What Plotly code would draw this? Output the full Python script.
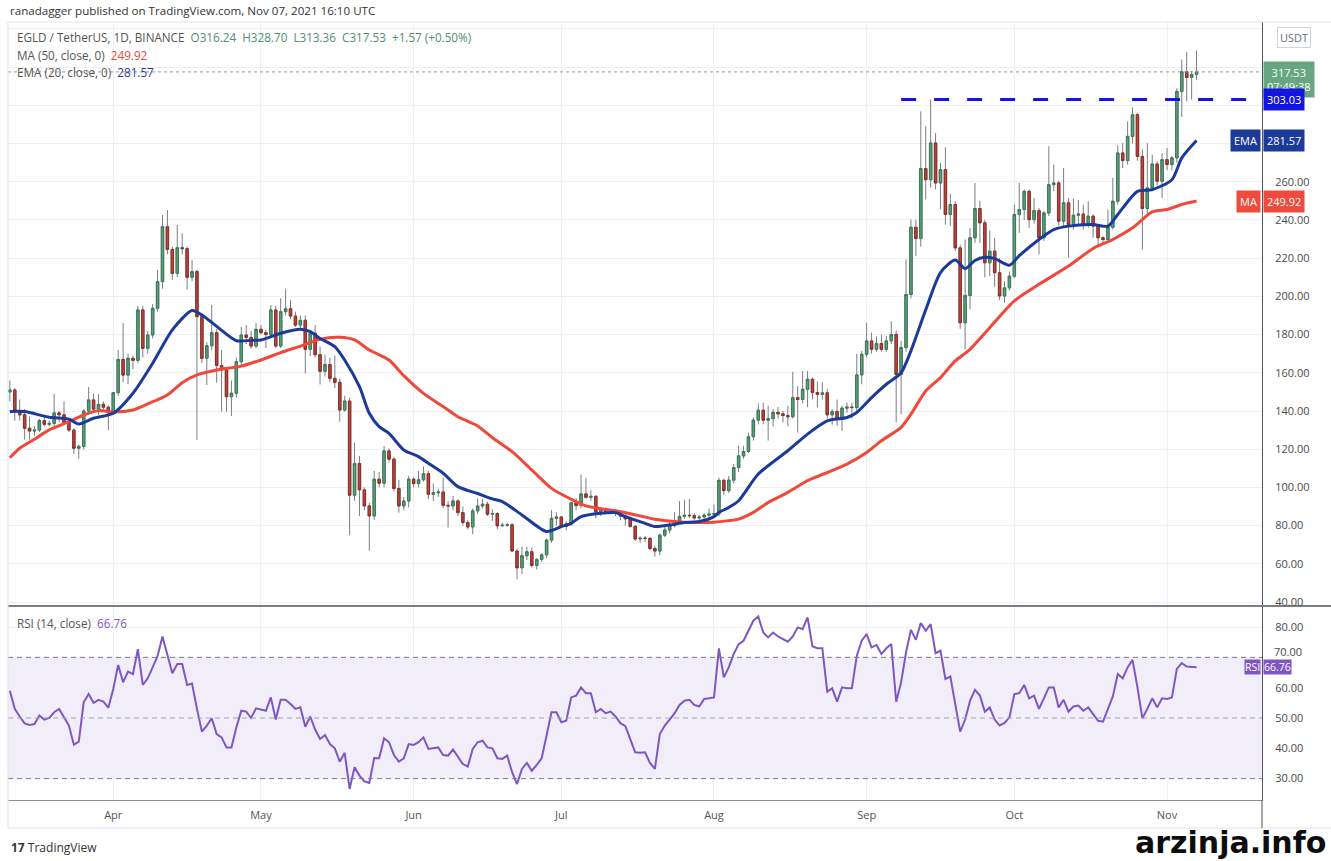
import plotly.graph_objects as go
import pandas as pd

# ---------------- data ----------------
start_date = "2021-03-11"
first_open = 150.0
close = [151, 140, 138, 131, 129.5, 130, 135, 133, 133.5, 139,
         138, 134, 130, 120.5, 121.5, 140, 145.8, 141, 143.5, 142,
         139, 149.6, 167, 158.8, 167.6, 166.5, 192.9, 172.8, 179.8, 193.8,
         207.7, 236.5, 224.6, 212.1, 225.5, 225, 210, 213, 189.4, 167.6,
         174.2, 181, 163.8, 161.5, 147.5, 149.3, 165.8, 179.8, 178.5, 174,
         182.8, 181, 180, 192.9, 174, 192, 193.5, 189.7, 185, 187.5,
         172.3, 180.7, 169.5, 160.8, 164.3, 157.1, 155, 140.5, 145.2, 95.9,
         112.5, 98.7, 90.3, 85.1, 104.3, 102.2, 119.1, 114.8, 99.4, 90.3,
         92.9, 104.3, 102, 104, 107.2, 96.4, 97.2, 97.6, 90.6, 90.3,
         92.9, 86.8, 81.6, 79.3, 87.7, 90.3, 91.2, 86, 86.3, 79.9,
         80.2, 80.4, 66.7, 57.9, 64.2, 66.3, 59.1, 62.3, 64.7, 72.4,
         83.8, 84.5, 79.6, 81, 91.9, 90.5, 96.6, 94.8, 95.3, 87.2,
         88.5, 87.2, 87, 86.5, 85, 83.5, 79.6, 73, 73.4, 73.3,
         68, 66.7, 75, 77.7, 80, 82.4, 84.8, 85.4, 85.2, 84,
         84.5, 85.5, 86, 86.2, 103.7, 98.3, 103.8, 110.4, 116.5, 118.8,
         126.5, 135.2, 140.4, 135.2, 136, 139.3, 138.5, 137.6, 137, 147,
         146, 151.4, 156.6, 149.7, 148.7, 149.5, 138, 139.7, 135.7, 141.5,
         142, 141.8, 158.9, 169.7, 176.7, 172.3, 175.3, 172.3, 176.7, 180.1,
         159.2, 173.2, 201, 236.2, 230.3, 266.9, 261.1, 280.3, 259.4, 266.4,
         242.9, 248.1, 225.4, 186.2, 200.5, 230.7, 246, 238.5, 217.6, 223.7,
         212.4, 200.2, 204.5, 210.6, 242.9, 245.5, 255, 240.2, 244.9, 230.7,
         243.7, 258.5, 259.4, 239.4, 249, 237.6, 242.5, 243.1, 237.6, 242,
         236.8, 230.7, 229.8, 236.2, 249.8, 275.1, 271.1, 283.8, 295.1, 273.3,
         246, 256.8, 269.3, 260.3, 271.6, 269, 272.5, 307.3, 317.6, 314.6,
         316.24, 317.53]
high = [156, 152, 146, 141, 137, 132, 136, 138, 135, 149,
        140, 145, 135, 131, 122.5, 141, 152.6, 149, 148.8, 145,
        143, 150, 172, 186, 170, 169, 195, 195, 182, 196,
        213.8, 242.6, 245.2, 226, 237.4, 233, 226, 219, 214, 191,
        176, 195.5, 183, 172, 163, 156, 168, 184, 185, 182,
        186, 185, 182.5, 195.5, 195, 199, 204, 198, 192, 190,
        190, 182.5, 185, 173.7, 169.5, 168, 169, 157, 148, 147,
        123.4, 116.5, 100, 92, 108.6, 108, 121.7, 120.5, 116, 104,
        95, 106, 105.2, 108.6, 111, 108.6, 102, 99.4, 105, 92.9,
        95.5, 93.8, 90, 82.9, 89, 94.2, 94, 92.5, 88.5, 87,
        81.5, 81.5, 81.4, 68, 68.9, 68.9, 68.5, 63, 65.5, 73.3,
        88.1, 87, 85, 82.3, 92.5, 94.5, 106.8, 105, 98.5, 96,
        89.5, 89.5, 88, 88.5, 87.5, 86, 84, 80.3, 74.4, 74.5,
        74, 69.5, 75.9, 80, 82.5, 87.2, 92.8, 93.6, 94, 86.5,
        85.5, 86.5, 89, 91, 105, 104.5, 106, 112.2, 121.8, 121.8,
        128.7, 136.6, 143.9, 144.4, 142.8, 141, 142, 140, 142.8, 160.6,
        153, 160.9, 160.9, 157.5, 155.5, 155, 151.5, 141, 146, 142.8,
        144.4, 144.4, 170, 171.4, 186.2, 181, 179, 180, 179.3, 187,
        182, 176.7, 219.3, 240.2, 240.2, 296.9, 289, 303, 285.5, 269.9,
        278, 253.7, 249.8, 227.1, 229.8, 235.9, 259.4, 250, 240, 234.5,
        230.7, 220, 208, 213, 248.1, 259.4, 256, 256, 251.5, 246.3,
        244.6, 278.6, 269, 260.5, 267.2, 251.5, 251.2, 250.5, 248, 249.8,
        243, 237.6, 231.5, 245.5, 262, 279.1, 280.3, 291.6, 299, 296,
        277, 280.3, 274.2, 270.7, 275, 277.7, 273.5, 309, 324, 328,
        318, 328.7]
low = [145, 135, 135, 125, 125, 127, 129, 132, 132, 132,
       134, 133, 129, 117.5, 115, 120, 138, 139, 138, 140.5,
       130, 138, 148, 155, 154, 162, 165, 168, 170, 178,
       192, 204, 222, 208.7, 210, 222, 203.6, 208, 124.8, 165,
       153.6, 172, 154.8, 139.6, 139.6, 137.4, 147, 164, 175, 172.5,
       173, 180, 173, 179, 173, 173, 190, 188, 184, 183,
       159.7, 168.8, 168, 153.9, 158, 155, 152, 134.4, 139.6, 75,
       93, 85.1, 88, 66.8, 83, 100, 100, 113, 98, 86.8,
       88, 89.5, 100, 100, 103, 93.8, 92.9, 95, 89, 79,
       88, 85, 80, 78, 75.5, 86, 89, 85, 82.5, 78,
       79.5, 79.5, 66.4, 51.8, 54.5, 62, 58, 57, 61, 63,
       71, 80, 79, 77.5, 80, 88, 89, 94, 93, 83.8,
       85, 86, 86, 85, 82.8, 80, 79, 72, 71, 71.5,
       67, 63.7, 64.5, 74, 76, 79, 81, 83.5, 84, 83,
       83, 83.5, 84, 85, 85, 96, 97, 102, 108, 115,
       118, 124.5, 133, 133, 124.5, 132, 136, 134, 132, 136,
       128.7, 144, 142, 146, 141.8, 146, 136, 132.8, 132.2, 129.6,
       139, 136, 140, 154, 168, 170, 171, 171, 171, 175,
       134, 138.3, 171, 199, 221.1, 226, 250.7, 257, 256, 245.5,
       237.6, 236.8, 223.7, 183, 172.3, 193.2, 228, 228, 210, 210.6,
       205, 198, 196.7, 203, 209.5, 233.3, 240, 235.9, 238, 222,
       229, 242, 255, 237, 235.9, 220.2, 235, 238, 235, 236,
       230.7, 226.3, 227, 228.5, 235, 248, 267.2, 269, 280, 271,
       224.6, 243, 255, 258, 251.6, 266, 266, 270, 294, 302,
       303, 313.36]
rsi = [59.0, 53.0, 50.5, 48.2, 47.7, 48.0, 50.8, 49.5, 50.0, 51.9,
       53.0, 50.2, 47.5, 41.2, 42.2, 55.2, 57.9, 55.0, 56.0, 55.4,
       53.4, 59.6, 67.5, 61.8, 65.3, 64.5, 72.7, 60.9, 63.1, 66.7,
       70.5, 76.9, 70.5, 64.8, 67.8, 67.8, 60.9, 61.4, 53.0, 45.5,
       47.5, 49.9, 44.7, 43.6, 40.3, 40.3, 46.9, 52.4, 52.1, 50.0,
       53.2, 52.7, 52.4, 56.8, 49.5, 56.0, 56.0, 54.6, 53.0, 53.5,
       47.1, 50.5, 46.2, 43.1, 44.4, 41.4, 40.0, 35.6, 38.5, 26.6,
       33.7, 31.0, 29.1, 28.6, 36.8, 36.7, 43.3, 42.0, 37.8, 35.6,
       36.7, 41.4, 41.1, 42.0, 43.6, 39.8, 40.0, 40.3, 37.8, 37.6,
       39.6, 37.0, 34.8, 34.0, 39.8, 42.0, 42.5, 40.3, 40.0, 36.7,
       36.5, 37.6, 32.1, 28.2, 33.2, 35.2, 32.6, 34.5, 36.7, 44.2,
       51.9, 51.9, 48.6, 49.1, 56.8, 57.4, 60.1, 58.2, 58.2, 51.9,
       53.0, 51.6, 52.1, 50.5, 48.3, 47.3, 43.3, 38.7, 38.5, 38.7,
       35.2, 33.2, 44.7, 47.5, 49.5, 51.6, 54.3, 55.7, 56.0, 54.3,
       53.8, 56.3, 56.5, 56.8, 73.0, 63.4, 66.7, 71.1, 74.4, 75.5,
       78.8, 82.1, 83.5, 78.2, 76.6, 78.2, 76.9, 76.0, 75.2, 76.9,
       79.9, 79.3, 83.2, 73.6, 73.0, 73.0, 58.7, 59.8, 55.4, 60.1,
       59.8, 59.8, 70.5, 75.5, 77.7, 73.3, 74.1, 71.1, 73.0, 74.4,
       55.4, 61.8, 71.6, 79.1, 75.8, 81.3, 78.8, 81.0, 71.4, 72.2,
       62.9, 63.7, 54.6, 45.5, 49.5, 55.7, 59.3, 57.4, 52.1, 53.5,
       49.5, 47.5, 48.4, 50.2, 57.9, 58.2, 60.9, 56.5, 57.4, 53.0,
       56.5, 60.1, 60.1, 53.5, 56.0, 52.1, 53.8, 54.1, 52.4, 53.5,
       51.3, 49.1, 48.8, 53.0, 57.1, 64.5, 63.1, 66.7, 69.2, 60.1,
       49.9, 53.0, 56.5, 53.5, 56.5, 56.3, 56.8, 66.2, 68.1, 67.0,
       67.0, 66.76]
ma_idx = [0, 2, 5, 8, 12, 15, 18, 21, 25, 28, 32, 35, 38, 42, 47, 51, 55, 59, 63, 67,
          70, 73, 77, 80, 84, 88, 91, 95, 98, 102, 106, 110, 114, 117, 121, 124, 128, 131,
          135, 139, 143, 146, 148, 151, 154, 158, 162, 166, 170, 174, 177, 181, 183, 186,
          189, 192, 195, 199, 204, 209, 215, 220, 224, 228, 232, 235, 238, 241]
ma_val = [115.5, 120.5, 125.2, 130.1, 134.4, 137.9, 140.2, 139.5, 140.5, 143.7, 148.4,
          154.8, 158.9, 161.5, 163.5, 166.7, 170.6, 174, 177.6, 178.6, 177.2, 171.9, 166.7,
          158.5, 149.2, 142.3, 137, 132.2, 126, 118.7, 109.1, 99.5, 93.8, 90.3, 88.5, 87.3,
          85.1, 83.3, 82.1, 81.6, 81.8, 82.6, 83.4, 86.9, 92.1, 97.4, 103.5, 107.8, 112.2,
          118.3, 124.4, 131.4, 138.3, 150.5, 157.5, 166.2, 172.3, 183.6, 197.6, 206.3,
          215.9, 225.1, 229.8, 235.9, 244.3, 245.5, 248.1, 249.92]
ema_idx = [0, 3, 8, 12, 14, 17, 21, 25, 29, 33, 37, 39, 42, 46, 49, 51, 55, 59, 61, 63,
           66, 68, 71, 73, 75, 77, 80, 83, 85, 88, 91, 95, 98, 100, 104, 109, 112, 114, 116,
           120, 123, 125, 129, 131, 134, 137, 140, 143, 144, 146, 148, 152, 158, 162, 166,
           170, 172, 175, 178, 181, 183, 186, 189, 192, 194, 196, 198, 200, 203, 205, 209,
           212, 215, 220, 223, 225, 229, 232, 236, 238, 241]
ema_val = [139.7, 139.7, 136.7, 135.7, 133.2, 136.2, 138.8, 149.3, 165, 182.5, 192.6,
           190.3, 184.3, 176.8, 177, 177.2, 180.7, 182.8, 181.5, 178, 173.7, 166.7, 152.7,
           138.8, 131.8, 128.3, 119.6, 116.1, 112.6, 107.4, 100.4, 96.8, 94, 92.6, 85.6,
           76.9, 79.5, 81.2, 84.7, 86.5, 86.8, 84.7, 81.2, 79.5, 80.3, 81.6, 82.1, 84.7,
           86.9, 89.5, 93, 107, 119.2, 127.9, 134.8, 136.6, 139.2, 147, 154, 160, 171.5,
           193, 212.5, 219, 214.5, 218.8, 220.5, 219.8, 216.3, 221.3, 229.8, 235, 236.8,
           237.6, 236.8, 242.9, 255, 255.9, 261.1, 272.5, 281.57]
resistance = 303.03
resistance_start_idx = 181
price_ticks = [40, 60, 80, 100, 120, 140, 160, 180, 200, 220, 240, 260, 280, 300, 320, 340]
hidden_price_ticks = [280, 300, 320, 340]   # covered by the value tags in the reference
rsi_ticks = [30, 40, 50, 60, 70, 80]
rsi_tag_level = 70                           # its label sits just above the RSI value tag
month_ticks = ["2021-04-01", "2021-05-01", "2021-06-01", "2021-07-01",
               "2021-08-01", "2021-09-01", "2021-10-01", "2021-11-01"]
month_labels = ["Apr", "May", "Jun", "Jul", "Aug", "Sep", "Oct", "Nov"]

# ---------------- derived ----------------
dates = pd.date_range(start_date, periods=len(close), freq="D")
opens = [first_open] + close[:-1]
body_hi = [max(o, c) for o, c in zip(opens, close)]
body_lo = [min(o, c) for o, c in zip(opens, close)]
ma_x = [dates[i] for i in ma_idx]
ema_x = [dates[i] for i in ema_idx]

W, H = 1331, 861
L, R, T, B = 8, 1262, 22, 800
def px(x):
    return (x - L) / (R - L)
def py(y):
    return (B - y) / (B - T)

UP, UP_LINE = "#5b9e78", "#3d7a59"
DN, DN_LINE = "#b4463c", "#8d2f28"
WICK = "#7b7d85"
GRID = "#eef0f4"
FONT = "Open Sans"

fig = go.Figure()
fig.add_trace(go.Candlestick(
    x=dates, open=opens, high=high, low=low, close=close,
    increasing=dict(line=dict(color=WICK, width=1), fillcolor=WICK),
    decreasing=dict(line=dict(color=WICK, width=1), fillcolor=WICK),
    hoverinfo="skip", showlegend=False, xaxis="x", yaxis="y"))
fig.add_trace(go.Candlestick(
    x=dates, open=opens, high=body_hi, low=body_lo, close=close,
    increasing=dict(line=dict(color=UP_LINE, width=1), fillcolor=UP),
    decreasing=dict(line=dict(color=DN_LINE, width=1), fillcolor=DN),
    hoverinfo="skip", showlegend=False, xaxis="x", yaxis="y"))
fig.add_trace(go.Scatter(x=ma_x, y=ma_val, mode="lines",
                         line=dict(color="#f0483a", width=3, shape="spline", smoothing=0.7),
                         hoverinfo="skip", showlegend=False, xaxis="x", yaxis="y"))
fig.add_trace(go.Scatter(x=ema_x, y=ema_val, mode="lines",
                         line=dict(color="#1c3a99", width=3, shape="spline", smoothing=0.7),
                         hoverinfo="skip", showlegend=False, xaxis="x", yaxis="y"))
fig.add_trace(go.Scatter(x=dates, y=rsi, mode="lines",
                         line=dict(color="#7e57c2", width=2),
                         hoverinfo="skip", showlegend=False, xaxis="x2", yaxis="y2"))

x_range = ["2021-03-10 15:00", "2021-11-20 07:00"]
main_dom = [py(605), 1.0]
rsi_dom = [0.0, py(607)]

fig.update_layout(
    width=W, height=H,
    margin=dict(l=L, r=W - R, t=T, b=H - B),
    paper_bgcolor="white", plot_bgcolor="white",
    font=dict(family=FONT, color="#4a4a4a", size=11),
    showlegend=False,
    xaxis=dict(domain=[0, 1], anchor="y", type="date", range=x_range,
               tickvals=month_ticks, ticktext=month_labels, showticklabels=False,
               showgrid=True, gridcolor=GRID, gridwidth=1, zeroline=False,
               rangeslider=dict(visible=False), fixedrange=True),
    xaxis2=dict(domain=[0, 1], anchor="y2", type="date", range=x_range, matches="x",
                tickvals=month_ticks, ticktext=month_labels, showticklabels=True,
                tickfont=dict(size=11, color="#555"), ticks="", ticklabelstandoff=5,
                showgrid=True, gridcolor=GRID, zeroline=False,
                showline=True, linecolor="#8a8d96", linewidth=1),
    yaxis=dict(domain=main_dom, anchor="x", side="right", range=[38.43, 343.66],
               tickvals=price_ticks,
               ticktext=["" if v in hidden_price_ticks else f"{v:.2f}" for v in price_ticks],
               tickfont=dict(size=11, color="#4a4a4a"), ticks="", ticklabelstandoff=10,
               showgrid=True, gridcolor=GRID, zeroline=False,
               showline=True, linecolor="#50535e", linewidth=1),
    yaxis2=dict(domain=rsi_dom, anchor="x2", side="right", range=[22.94, 86.63],
                tickvals=rsi_ticks,
                ticktext=["" if v == rsi_tag_level else f"{v:.2f}" for v in rsi_ticks],
                tickfont=dict(size=11, color="#4a4a4a"), ticks="", ticklabelstandoff=10,
                showgrid=True, gridcolor=GRID, zeroline=False,
                showline=True, linecolor="#50535e", linewidth=1),
)

shapes = []
shapes.append(dict(type="rect", xref="paper", yref="y2", x0=0, x1=1, y0=30, y1=70,
                   fillcolor="rgba(126,87,194,0.10)", line=dict(width=0), layer="below"))
for lvl, col in [(70, "#787b86"), (50, "#a5a7ae"), (30, "#787b86")]:
    shapes.append(dict(type="line", xref="paper", yref="y2", x0=0, x1=1, y0=lvl, y1=lvl,
                       line=dict(color=col, width=1, dash="5px,4px")))
shapes.append(dict(type="line", xref="x", yref="y", x0=dates[resistance_start_idx],
                   x1=x_range[1], y0=resistance, y1=resistance,
                   line=dict(color="#1515d8", width=3, dash="15px,18px")))
shapes.append(dict(type="line", xref="paper", yref="y", x0=0, x1=1, y0=close[-1], y1=close[-1],
                   line=dict(color="#9598a1", width=1, dash="dot")))
shapes.append(dict(type="line", xref="paper", yref="paper", x0=px(L), x1=px(W),
                   y0=py(606), y1=py(606), line=dict(color="#50535e", width=1.5)))
shapes.append(dict(type="line", xref="paper", yref="paper", x0=px(L), x1=px(W),
                   y0=py(22), y1=py(22), line=dict(color="#e0e3eb", width=1)))
shapes.append(dict(type="line", xref="paper", yref="paper", x0=px(L), x1=px(L),
                   y0=py(22), y1=py(828), line=dict(color="#e0e3eb", width=1)))
shapes.append(dict(type="line", xref="paper", yref="paper", x0=px(L), x1=px(W),
                   y0=py(828), y1=py(828), line=dict(color="#e0e3eb", width=1)))
shapes.append(dict(type="line", xref="paper", yref="paper", x0=px(R), x1=px(R),
                   y0=py(800), y1=py(828), line=dict(color="#50535e", width=1)))
fig.update_layout(shapes=shapes)

ann = []
def text(x, y, s, size=12, color="#4a4a4a", xanchor="left", yanchor="middle", family=FONT):
    ann.append(dict(xref="paper", yref="paper", x=px(x), y=py(y), text=s, showarrow=False,
                    xanchor=xanchor, yanchor=yanchor,
                    font=dict(size=size, color=color, family=family)))

text(8, 10, "ranadagger published on TradingView.com, Nov 07, 2021 16:10 UTC", size=11.6, color="#333")
text(15, 37, "EGLD / TetherUS, 1D, BINANCE&nbsp;&nbsp;<span style='color:#4f8f6c'>O316.24&nbsp;&nbsp;H328.70&nbsp;&nbsp;L313.36&nbsp;&nbsp;C317.53&nbsp;&nbsp;+1.57 (+0.50%)</span>", size=11.7, color="#555")
text(15, 55, "MA (50, close, 0)&nbsp;&nbsp;<span style='color:#e5483c'>249.92</span>", size=11.7, color="#555")
text(15, 72, "EMA (20, close, 0)&nbsp;&nbsp;<span style='color:#1f3c9a'>281.57</span>", size=11.7, color="#555")
text(15, 623, "RSI (14, close)&nbsp;&nbsp;<span style='color:#7e57c2'>66.76</span>", size=11.7, color="#555")
text(9, 847, "<b>17</b> TradingView", size=12, color="#333")
text(1328, 842, "<b>arzinja.info</b>", size=30, color="#0d0d0d", xanchor="right",
     family="DejaVu Sans, sans-serif")
# RSI 70 level label, nudged just above the value tag as in the reference
text(R + 10, 651, f"{rsi_tag_level:.2f}", size=11, color="#4a4a4a")

def tag(yref, y, s, bg, xanchor="left", x=R + 1, size=11, color="white", pad=2):
    ann.append(dict(xref="paper", yref=yref, x=px(x), y=y, text=s, showarrow=False,
                    xanchor=xanchor, yanchor="middle", bgcolor=bg, borderpad=pad,
                    font=dict(size=size, color=color, family=FONT)))

tag("paper", py(37), "USDT", "white", x=1277, size=11, color="#6a6d78")
ann[-1].update(bordercolor="#d1d4dc", borderwidth=1)
tag("paper", py(80), "317.53<br>07:49:38", "#67a680", pad=3)
tag("y", resistance, "303.03", "#1414e0", pad=3)
tag("y", ema_val[-1], "281.57", "#1c3a99", pad=3)
tag("y", ema_val[-1], "EMA", "#1c3a99", xanchor="right", x=R - 1, pad=3)
tag("y", ma_val[-1], "249.92", "#ee4a3e", pad=3)
tag("y", ma_val[-1], "MA", "#ee4a3e", xanchor="right", x=R - 1, pad=3)
tag("y2", rsi[-1], "66.76", "#7e57c2", size=10.5, pad=0)
tag("y2", rsi[-1], "RSI", "#7e57c2", xanchor="right", x=R - 1, size=10.5, pad=0)
fig.update_layout(annotations=ann)

# remove the default 8px page margin so the figure fills the window exactly
fig.write_html("out.html", config={"displayModeBar": False},
               post_script="document.body.style.margin='0px';")
